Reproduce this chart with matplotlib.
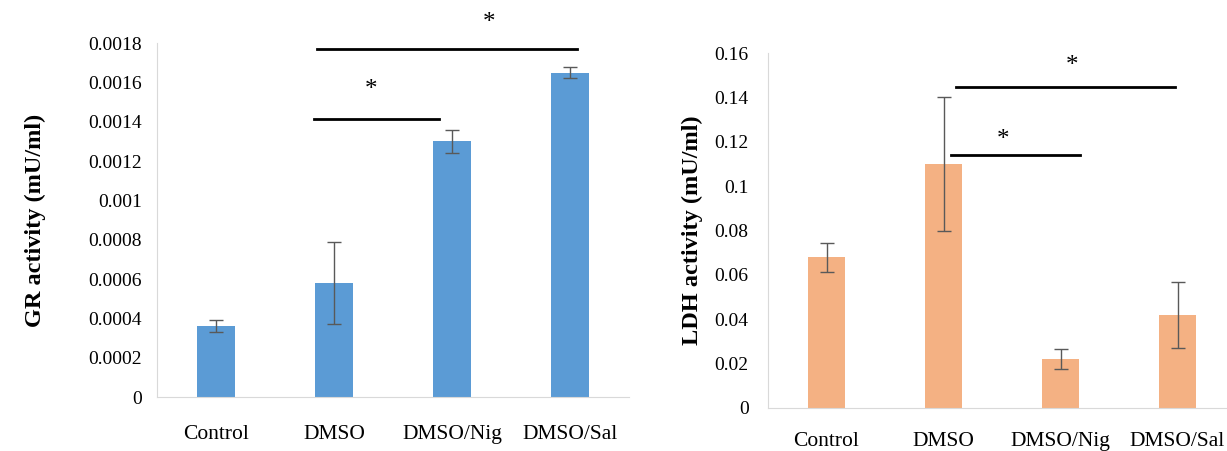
import matplotlib.pyplot as plt
import numpy as np

plt.rcParams['font.family'] = ['Liberation Serif', 'DejaVu Serif']

groups = ["Control", "DMSO", "DMSO/Nig", "DMSO/Sal"]

# GR activity (mU/ml)
gr_mean = [0.00036, 0.00058, 0.00130, 0.00165]
gr_err = [0.00003, 0.00021, 0.00006, 0.00003]

# LDH activity (mU/ml)
ldh_mean = [0.068, 0.110, 0.022, 0.042]
ldh_err = [0.0065, 0.030, 0.0045, 0.015]

# significance lines: (x start, x end, line height, star x, star height)
gr_sig = [(0.86, 3.06, 0.00177, 2.31, 0.00190), (0.83, 1.89, 0.001415, 1.31, 0.00156)]
ldh_sig = [(1.11, 2.98, 0.1445, 2.1, 0.154), (1.06, 2.17, 0.114, 1.51, 0.121)]

fig = plt.figure(figsize=(12.27, 4.51), dpi=100)
ax1 = fig.add_axes([157 / 1227, 1 - 397 / 451, 472 / 1227, 354 / 451])
ax2 = fig.add_axes([768 / 1227, 1 - 408 / 451, 468 / 1227, 355 / 451])

x = np.arange(len(groups))


def style(ax, ylabel, ymax, step, fmt, pad_x, pad_y, lpad):
    ax.set_xlim(-0.5, 3.5)
    ax.set_ylim(0, ymax)
    ticks = np.arange(0, ymax + step / 2, step)
    ax.set_yticks(ticks)
    ax.set_yticklabels([fmt(t) for t in ticks], fontsize=14)
    ax.set_xticks(x)
    ax.set_xticklabels(groups, fontsize=15.5)
    ax.tick_params(length=0)
    ax.tick_params(axis='x', pad=pad_x)
    ax.tick_params(axis='y', pad=pad_y)
    for s in ['top', 'right']:
        ax.spines[s].set_visible(False)
    for s in ['left', 'bottom']:
        ax.spines[s].set_color('#d9d9d9')
    ax.set_ylabel(ylabel, fontsize=17.5, fontweight='bold', labelpad=lpad)


def fmt_gr(t):
    if t == 0:
        return "0"
    return ("%.4f" % t).rstrip('0')


def fmt_ldh(t):
    if t == 0:
        return "0"
    return ("%.2f" % t).rstrip('0')


err_style = dict(ecolor='#595959', elinewidth=1, capsize=5, capthick=1)

ax1.bar(x, gr_mean, width=0.32, color='#5b9bd5', yerr=gr_err, error_kw=err_style)
style(ax1, "GR activity (mU/ml)", 0.0018, 0.0002, fmt_gr, 20, 11, 30)
for x0, x1, h, sx, sh in gr_sig:
    ax1.plot([x0, x1], [h, h], color='black', lw=2, clip_on=False)
    ax1.text(sx, sh, "*", ha='center', va='center', fontsize=18, clip_on=False)

ax2.bar(x, ldh_mean, width=0.32, color='#f4b183', yerr=ldh_err, error_kw=err_style)
style(ax2, "LDH activity (mU/ml)", 0.16, 0.02, fmt_ldh, 17, 14, 8)
for x0, x1, h, sx, sh in ldh_sig:
    ax2.plot([x0, x1], [h, h], color='black', lw=2, clip_on=False)
    ax2.text(sx, sh, "*", ha='center', va='center', fontsize=18, clip_on=False)

fig.savefig("out.png", dpi=100)
